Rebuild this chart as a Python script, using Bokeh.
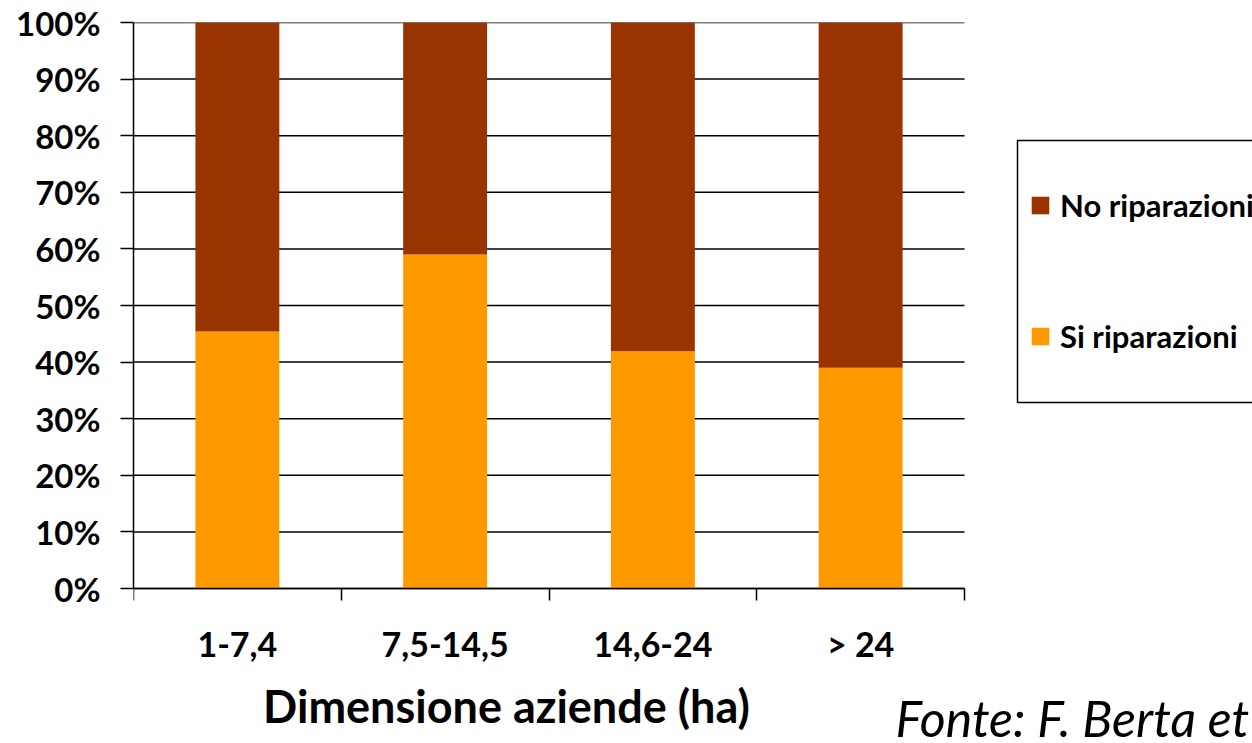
from bokeh.plotting import figure
from bokeh.models import (FixedTicker, PrintfTickFormatter, Legend, LegendItem,
                          Label, ColumnDataSource, Range1d, BoxAnnotation)
from bokeh.embed import file_html
from bokeh.resources import INLINE

# Farm size classes (hectares) and share of farms doing / not doing repairs (%)
categories = ["1-7,4", "7,5-14,5", "14,6-24", "> 24"]
si_riparazioni = [45.4, 59.0, 41.9, 39.0]
no_riparazioni = [54.6, 41.0, 58.1, 61.0]
y_ticks = [0, 10, 20, 30, 40, 50, 60, 70, 80, 90, 100]

COL_NO = "#993300"
COL_SI = "#FF9900"
FONT = "Lato"

W, H = 1252, 743
LEFT, TOP = 133, 22
PX_PER_CLASS = 207.75          # horizontal size of one size class
PX_PER_PCT = 5.66              # vertical size of one percentage point

n = len(categories)
xs = [i + 0.5 for i in range(n)]
source = ColumnDataSource(dict(x=xs, si=si_riparazioni, no=no_riparazioni))

# the plotting area reaches the right and bottom edges, so that the legend and
# the captions can sit in it; the value axis spans 0..100 within it
x_end = (W - LEFT) / PX_PER_CLASS
y_start = -(H - TOP - 100 * PX_PER_PCT) / PX_PER_PCT
p = figure(width=W, height=H, output_backend="svg", toolbar_location=None,
           x_range=Range1d(0, x_end), y_range=Range1d(y_start, 100),
           min_border_left=LEFT, min_border_right=0,
           min_border_top=TOP, min_border_bottom=0)
p.outline_line_color = None
p.background_fill_color = "white"
p.border_fill_color = "white"
p.xgrid.visible = False
p.ygrid.visible = False

# horizontal gridlines at every 10 %, across the bar classes only
p.segment(x0=[0] * len(y_ticks), x1=[n] * len(y_ticks), y0=y_ticks, y1=y_ticks,
          line_color="black", line_width=1.5)

r_si, r_no = p.vbar_stack(["si", "no"], x="x", width=0.404, source=source,
                          color=[COL_SI, COL_NO], line_color=None)

# y axis: percentages
p.yaxis.ticker = FixedTicker(ticks=y_ticks)
p.yaxis.formatter = PrintfTickFormatter(format="%d%%")
p.yaxis.bounds = (0, 100)
p.yaxis.major_tick_out = 13
p.yaxis.major_tick_in = 0
p.yaxis.minor_tick_line_color = None
p.yaxis.major_label_standoff = 20

# x axis at 0 %: labels at class centres, tick marks at class boundaries
p.xaxis.fixed_location = 0
p.xaxis.bounds = (0, n)
p.xaxis.ticker = FixedTicker(ticks=xs, minor_ticks=list(range(n + 1)))
p.xaxis.major_label_overrides = {x: c for x, c in zip(xs, categories)}
p.xaxis.major_tick_out = 0
p.xaxis.major_tick_in = 0
p.xaxis.minor_tick_out = 12
p.xaxis.minor_tick_in = 0
p.xaxis.minor_tick_line_color = "black"
p.xaxis.minor_tick_line_width = 1.5
p.xaxis.major_label_standoff = 22

for ax in (p.xaxis, p.yaxis):
    ax.axis_line_color = "black"
    ax.axis_line_width = 1.5
    ax.major_tick_line_width = 1.5
    ax.major_label_text_font = FONT
    ax.major_label_text_font_style = "bold"
    ax.major_label_text_color = "black"
p.xaxis.major_tick_line_color = None
p.yaxis.major_tick_line_color = "black"
p.xaxis.major_label_text_font_size = "34px"
p.yaxis.major_label_text_font_size = "33px"

# legend frame, open towards the right edge
p.add_layout(BoxAnnotation(left=884, left_units="screen",
                           right=1300, right_units="screen",
                           bottom=341, bottom_units="screen",
                           top=603, top_units="screen",
                           fill_color="white", fill_alpha=1.0,
                           line_color="black", line_alpha=1.0,
                           line_width=1.5))

legend = Legend(items=[LegendItem(label="No riparazioni", renderers=[r_no]),
                       LegendItem(label="Si riparazioni", renderers=[r_si])],
                location=(896, 388), padding=0, margin=0, spacing=93,
                glyph_width=22, glyph_height=22, label_height=22,
                label_standoff=9,
                label_text_font=FONT, label_text_font_style="bold",
                label_text_font_size="31px", label_text_color="black",
                border_line_alpha=0, background_fill_alpha=0)
p.add_layout(legend, "center")

p.add_layout(Label(x=373, y=11, x_units="screen", y_units="screen",
                   text="Dimensione aziende (ha)", text_align="center",
                   text_font=FONT, text_font_style="bold",
                   text_font_size="45px", text_color="black"))
p.add_layout(Label(x=762, y=-4, x_units="screen", y_units="screen",
                   text="Fonte: F. Berta et al.", text_align="left",
                   text_font=FONT, text_font_style="italic",
                   text_font_size="50px", text_color="black"))

open("out.html", "w").write(file_html(p, INLINE))
